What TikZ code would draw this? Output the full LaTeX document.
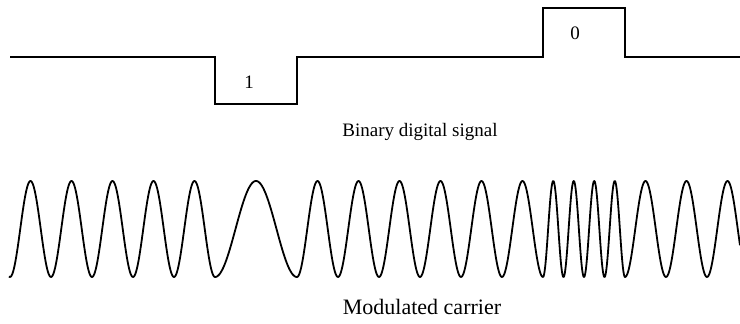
\documentclass[tikz,border=0pt]{standalone}
\usepackage{fontspec}
\setmainfont{Liberation Serif}
\usepackage{tikz}

\begin{document}
\begin{tikzpicture}[
        x=1pt, y=1pt,
        signal/.style={line width=1.8pt, line join=miter, black},
        carrier/.style={line width=1.8pt, line join=round, black},
        bitlabel/.style={anchor=base, font=\fontsize{19}{22}\selectfont},
        caption/.style={anchor=base, font=\fontsize{19}{22}\selectfont}
    ]
        \useasboundingbox (0,0) rectangle (740,324);

        % 数字信号
        \draw[signal] (10,267) -- (215,267) -- (215,220) -- (297,220) -- (297,267)
            -- (543,267) -- (543,316) -- (625,316) -- (625,267) -- (740,267);
        \node[bitlabel] (one) at (249,235) {1};
        \node[bitlabel] (zero) at (575,284) {0};
        \node[caption] (sigcap) at (420,187) {Binary digital signal};

        % 调制载波
        \draw[carrier] plot[domain=9:215, samples=260] (\x, {95-48*cos((\x-10)*8.7805)})
            -- plot[domain=215:297, samples=100] (\x, {95-48*cos((\x-215)*4.3902)})
            -- plot[domain=297:543, samples=300] (\x, {95-48*cos((\x-297)*8.7805)})
            -- plot[domain=543:625, samples=200] (\x, {95-48*cos((\x-543)*17.561)})
            -- plot[domain=625:740, samples=150] (\x, {95-48*cos((\x-625)*8.7805)});
        \node[caption, font=\fontsize{22}{26}\selectfont] (carcap) at (422,9) {Modulated carrier};
\end{tikzpicture}
\end{document}
